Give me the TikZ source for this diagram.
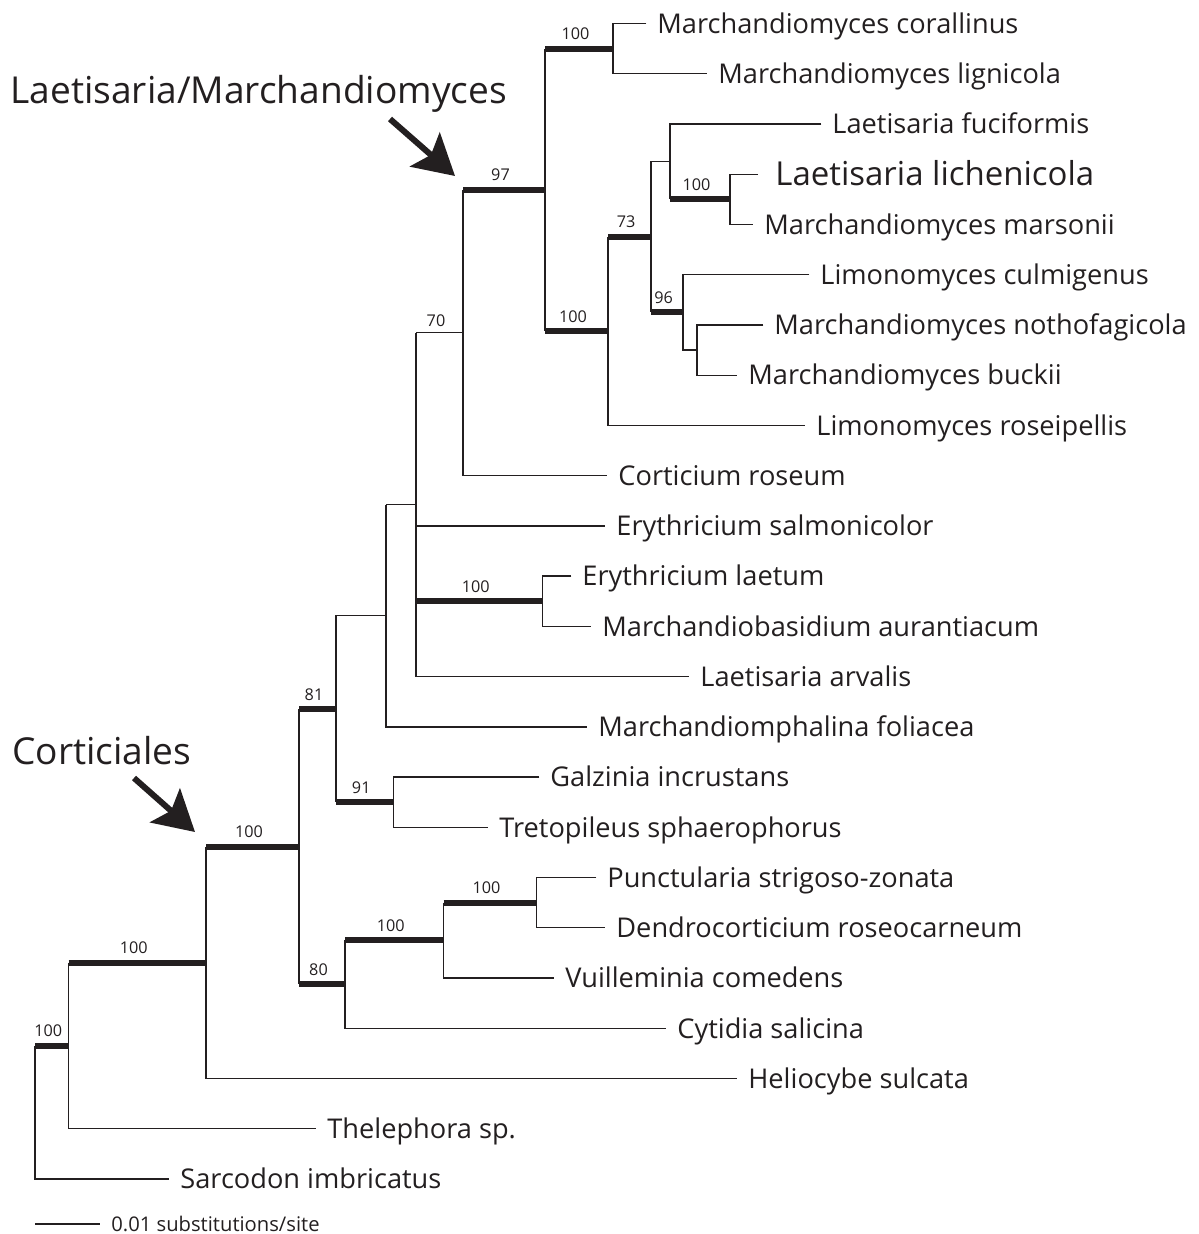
\documentclass[tikz,border=0pt]{standalone}
\usepackage{fontspec}
\setmainfont{Open Sans}
\usetikzlibrary{arrows.meta,calc}
\tikzset {>=Stealth}
\definecolor{ink}{HTML}{231F20}
\newcommand*{\taxfont}{\fontsize{13.6pt}{16pt}\selectfont}
\newcommand*{\bigtaxfont}{\fontsize{16.5pt}{19pt}\selectfont}
\newcommand*{\bootfont}{\fontsize{8.1pt}{10pt}\selectfont}
\newcommand*{\headfont}{\fontsize{18.55pt}{22pt}\selectfont}
\newcommand*{\barfont}{\fontsize{10.1pt}{12pt}\selectfont}

\begin{document}
\begin{tikzpicture}[x=0.5pt,y=-0.5pt,
  branch/.style={draw=ink,line width=0.65pt},
  support/.style={draw=ink,line width=3pt},
  leaf/.style={branch,shorten >=5.3pt},
  taxon/.style={anchor=west,inner sep=0pt,text height=9.7pt,text depth=0pt,font=\taxfont,text=ink},
  boot/.style={anchor=base,inner sep=0pt,xshift=-1.75pt,yshift=4.5pt,font=\bootfont,text=ink},
  heading/.style={anchor=west,inner sep=0pt,text height=13.2pt,text depth=0pt,font=\headfont,text=ink},
  pointer/.style={draw=ink,line width=3pt,-{Stealth[length=20pt,width=22.5pt,inset=4pt]}}]
\useasboundingbox (0,0) rectangle (1198,1234);

% Internal nodes
\coordinate (root) at (35,1112.4);
\coordinate (A) at (68.5,1045.7);
\coordinate (B) at (206,962.6);
\coordinate (C) at (299,846.7);
\coordinate (D) at (336,709);
\coordinate (E) at (386,615.8);
\coordinate (F) at (393.5,802.1);
\coordinate (G) at (416,504.7);
\coordinate (H) at (463,332.7);
\coordinate (I) at (542.5,601.2);
\coordinate (J) at (545,189.9);
\coordinate (K) at (613,48.6);
\coordinate (L) at (608,331.2);
\coordinate (M) at (651,236.9);
\coordinate (N) at (670,161.6);
\coordinate (O) at (730,199.4);
\coordinate (P) at (683,312.2);
\coordinate (Q) at (697,349.9);
\coordinate (R) at (345,984.4);
\coordinate (S) at (443.5,940.4);
\coordinate (T) at (536.5,902.7);

% Taxa
\node[taxon] (nCor) at (657,23.5)  {Marchandiomyces corallinus};
\node[taxon] (nLig) at (718,73.7)  {Marchandiomyces lignicola};
\node[taxon] (nFuc) at (832,124.0) {Laetisaria fuciformis};
\node[taxon,text height=11.8pt,font=\bigtaxfont] (nLic) at (775,174.2) {Laetisaria lichenicola};
\node[taxon] (nMar) at (764,224.5) {Marchandiomyces marsonii};
\node[taxon] (nCul) at (820,274.7) {Limonomyces culmigenus};
\node[taxon] (nNot) at (774,324.9) {Marchandiomyces nothofagicola};
\node[taxon] (nBuc) at (748,375.2) {Marchandiomyces buckii};
\node[taxon] (nRos) at (816,425.4) {Limonomyces roseipellis};
\node[taxon] (nCrt) at (618,475.7) {Corticium roseum};
\node[taxon] (nSal) at (616,525.9) {Erythricium salmonicolor};
\node[taxon] (nLae) at (582,576.1) {Erythricium laetum};
\node[taxon] (nMba) at (602,626.4) {Marchandiobasidium aurantiacum};
\node[taxon] (nArv) at (700,676.6) {Laetisaria arvalis};
\node[taxon] (nMph) at (598,726.9) {Marchandiomphalina foliacea};
\node[taxon] (nGal) at (550,777.1) {Galzinia incrustans};
\node[taxon] (nTre) at (499,827.3) {Tretopileus sphaerophorus};
\node[taxon] (nPun) at (607,877.6) {Punctularia strigoso-zonata};
\node[taxon] (nDen) at (616,927.8) {Dendrocorticium roseocarneum};
\node[taxon] (nVui) at (565,978.1) {Vuilleminia comedens};
\node[taxon] (nCyt) at (677,1028.3) {Cytidia salicina};
\node[taxon] (nHel) at (748,1078.5) {Heliocybe sulcata};
\node[taxon] (nThe) at (327,1128.8) {Thelephora sp.};
\node[taxon] (nSar) at (180,1179.0) {Sarcodon imbricatus};

% Root and outgroups
\draw[leaf] (root |- A) |- (nSar.west);
\draw[support] (root |- A) -- node[boot] {100} (A);
\draw[leaf] (A |- B) |- (nThe.west);
\draw[support] (A |- B) -- node[boot] {100} (B);
\draw[leaf] (B |- C) |- (nHel.west);
\draw[support] (B |- C) -- node[boot] {100} (C);

% Corticiales
\draw[branch] (C |- D) -- (C |- R);
\draw[support] (C |- D) -- node[boot] {81} (D);
\draw[support] (C |- R) -- node[boot] {80} (R);

% Punctularia group
\draw[leaf] (R |- S) |- (nCyt.west);
\draw[support] (R |- S) -- node[boot] {100} (S);
\draw[leaf] (S |- T) |- (nVui.west);
\draw[support] (S |- T) -- node[boot] {100} (T);
\draw[leaf,shorten <=5.3pt] (nPun.west) -| (T) |- (nDen.west);

% Galzinia and Tretopileus
\draw[branch] (E) -- (D |- E) -- (D |- F);
\draw[support] (D |- F) -- node[boot] {91} (F);
\draw[leaf,shorten <=5.3pt] (nGal.west) -| (F) |- (nTre.west);

% Erythricium group
\draw[leaf] (E |- G) |- (nMph.west);
\draw[branch] (E |- G) -- (G);
\draw[leaf] (G |- H) |- (nArv.west);
\draw[branch] (G |- H) -- node[boot,yshift=-1.5pt] {70} (H);
\draw[leaf] (G |- nSal.west) -- (nSal.west);
\draw[support] (G |- I) -- node[boot] {100} (I);
\draw[leaf,shorten <=5.3pt] (nLae.west) -| (I) |- (nMba.west);

% Laetisaria/Marchandiomyces
\draw[leaf] (H |- J) |- (nCrt.west);
\draw[support] (H |- J) -- node[boot] {97} (J);
\draw[branch] (J |- K) -- (J |- L);
\draw[support] (J |- K) -- node[boot] {100} (K);
\draw[support] (J |- L) -- node[boot] {100} (L);
\draw[leaf,shorten <=5.3pt] (nCor.west) -| (K) |- (nLig.west);
\draw[leaf] (L |- M) |- (nRos.west);
\draw[support] (L |- M) -- node[boot] {73} (M);
\draw[branch] (N) -- (M |- N) -- (M |- P);
\draw[support] (M |- P) -- node[boot] {96} (P);
\draw[branch,shorten <=5.3pt] (nFuc.west) -| (N |- O);
\draw[support] (N |- O) -- node[boot] {100} (O);
\draw[branch,shorten <=8.5pt,shorten >=5.3pt] (nLic.west) -| (O) |- (nMar.west);
\draw[branch,shorten <=5.3pt] (nCul.west) -| (P |- Q) -- (Q);
\draw[leaf,shorten <=5.3pt] (nNot.west) -| (Q) |- (nBuc.west);

% Clade labels
\node[heading] (hLM) at (10,90) {Laetisaria/Marchandiomyces};
\node[heading] (hCo) at (12,751) {Corticiales};
\coordinate (aLM) at (390,119);
\coordinate (tLM) at (455,176);
\coordinate (aCo) at (134,778);
\coordinate (tCo) at (195,832);
\draw[pointer] (aLM) -- (tLM);
\draw[pointer] (aCo) -- (tCo);

% Scale bar
\coordinate (sbL) at (35,1224);
\coordinate (sbR) at (100,1224);
\draw[branch] (sbL) -- (sbR);
\node[taxon,text height=7.2pt,font=\barfont] (sbT) at (111,1224) {0.01 substitutions/site};
\end{tikzpicture}
\end{document}
